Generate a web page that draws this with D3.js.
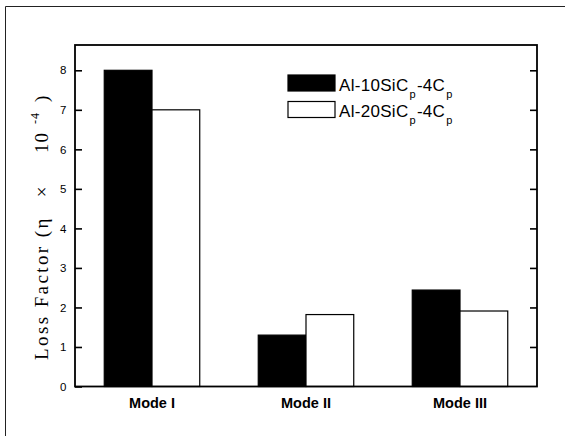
<!DOCTYPE html>
<html>
<head>
<meta charset="utf-8">
<script src="https://cdn.jsdelivr.net/npm/d3@7"></script>
<style>
html,body{margin:0;padding:0;background:#fff;}
svg{display:block;}
</style>
</head>
<body>
<script>
const categories = ["Mode I", "Mode II", "Mode III"];
const seriesNames = ["Al-10SiC", "Al-20SiC"];
const series10 = [8.0, 1.3, 2.44];
const series20 = [7.0, 1.82, 1.91];
const yTicks = [0, 1, 2, 3, 4, 5, 6, 7, 8];

const W = 571, H = 436;
const m = {left: 75, right: 34, top: 45, bottom: 49.5};
const svg = d3.select("body").append("svg").attr("width", W).attr("height", H);

// outer scanned border (left and top)
svg.append("line").attr("x1", 5.5).attr("x2", 5.5).attr("y1", 6.5).attr("y2", H)
  .attr("stroke", "#222").attr("stroke-width", 1);
svg.append("line").attr("x1", 5.5).attr("x2", 565).attr("y1", 6.5).attr("y2", 6.5)
  .attr("stroke", "#222").attr("stroke-width", 1);

const x0 = d3.scaleBand().domain(categories)
  .range([m.left, W - m.right]).paddingInner(0.38).paddingOuter(0.19);
const x1 = d3.scaleBand().domain([0, 1]).range([0, x0.bandwidth()]);
const y = d3.scaleLinear().domain([0, 8.64]).range([H - m.bottom, m.top]);

const g = svg.append("g");
const data = categories.map((c, i) => ({c, vals: [series10[i], series20[i]]}));

const groups = g.selectAll("g.grp").data(data).join("g")
  .attr("transform", d => `translate(${x0(d.c)},0)`);
groups.selectAll("rect").data(d => d.vals).join("rect")
  .attr("x", (v, j) => x1(j))
  .attr("width", x1.bandwidth())
  .attr("y", v => y(v))
  .attr("height", v => y(0) - y(v))
  .attr("fill", (v, j) => j === 0 ? "#000" : "#fff")
  .attr("stroke", "#000").attr("stroke-width", 1.2);

// axes
const yLeft = d3.axisLeft(y).tickValues(yTicks).tickSizeInner(-7).tickSizeOuter(0).tickPadding(8.5).tickFormat(d3.format("d"));
const yRight = d3.axisRight(y).tickValues(yTicks.filter(t => t > 0)).tickSizeInner(-7).tickSizeOuter(0).tickFormat("");
const gl = svg.append("g").attr("transform", `translate(${m.left},0)`).call(yLeft);
const gr = svg.append("g").attr("transform", `translate(${W - m.right},0)`).call(yRight);
[gl, gr].forEach(a => {
  a.select(".domain").remove();
  a.selectAll(".tick line").attr("stroke", "#000").attr("stroke-width", 1.6);
});
gl.selectAll(".tick text").attr("font-family", "Liberation Sans, Arial, sans-serif")
  .attr("font-size", 11.5).attr("fill", "#000");

// frame
svg.append("rect").attr("x", m.left).attr("y", m.top)
  .attr("width", W - m.left - m.right).attr("height", H - m.top - m.bottom)
  .attr("fill", "none").attr("stroke", "#000").attr("stroke-width", 1.8);

// x labels
const xAxis = d3.axisBottom(x0).tickSize(0).tickPadding(11);
const gx = svg.append("g").attr("transform", `translate(0,${H - m.bottom})`).call(xAxis);
gx.select(".domain").remove();
gx.selectAll(".tick text").attr("font-family", "Liberation Sans, Arial, sans-serif")
  .attr("font-weight", "bold").attr("font-size", 14.5).attr("fill", "#000");

// y label (pieces placed along the rotated baseline)
const serif = "Liberation Serif, Times New Roman, serif";
const labelX = 47.5;
const pieces = [
  {t: "Loss Factor (η", at: 360, size: 19, ls: 2.4, anchor: "start", shift: 0},
  {t: "×", at: 192, size: 19, ls: 0, anchor: "middle", shift: 0},
  {t: "10", at: 153, size: 19, ls: 1, anchor: "start", shift: 0},
  {t: "-4", at: 124, size: 12, ls: 1, anchor: "start", shift: -9},
  {t: ")", at: 102, size: 19, ls: 0, anchor: "start", shift: 0}
];
pieces.forEach(p => {
  svg.append("text")
    .attr("transform", `translate(${labelX + p.shift},${p.at}) rotate(-90)`)
    .attr("text-anchor", p.anchor)
    .attr("font-family", serif).attr("font-size", p.size)
    .attr("letter-spacing", p.ls).attr("fill", "#000").text(p.t);
});

// legend
const lg = svg.append("g").attr("transform", "translate(288,75)");
seriesNames.forEach((name, i) => {
  const row = lg.append("g").attr("transform", `translate(0,${i * 26.5})`);
  row.append("rect").attr("x", 0).attr("y", 0).attr("width", 47).attr("height", 16)
    .attr("fill", i === 0 ? "#000" : "#fff").attr("stroke", "#000").attr("stroke-width", 1.2);
  const t = row.append("text").attr("x", 51).attr("y", 15.5)
    .attr("font-family", "Liberation Sans, Arial, sans-serif").attr("font-size", 17)
    .attr("letter-spacing", 0.3).attr("fill", "#000");
  t.append("tspan").text(name);
  t.append("tspan").attr("dy", 7).attr("dx", 1).attr("font-size", 11).text("p");
  t.append("tspan").attr("dy", -7).attr("dx", 1).text("-4C");
  t.append("tspan").attr("dy", 7).attr("dx", 1).attr("font-size", 11).text("p");
});
</script>
</body>
</html>
